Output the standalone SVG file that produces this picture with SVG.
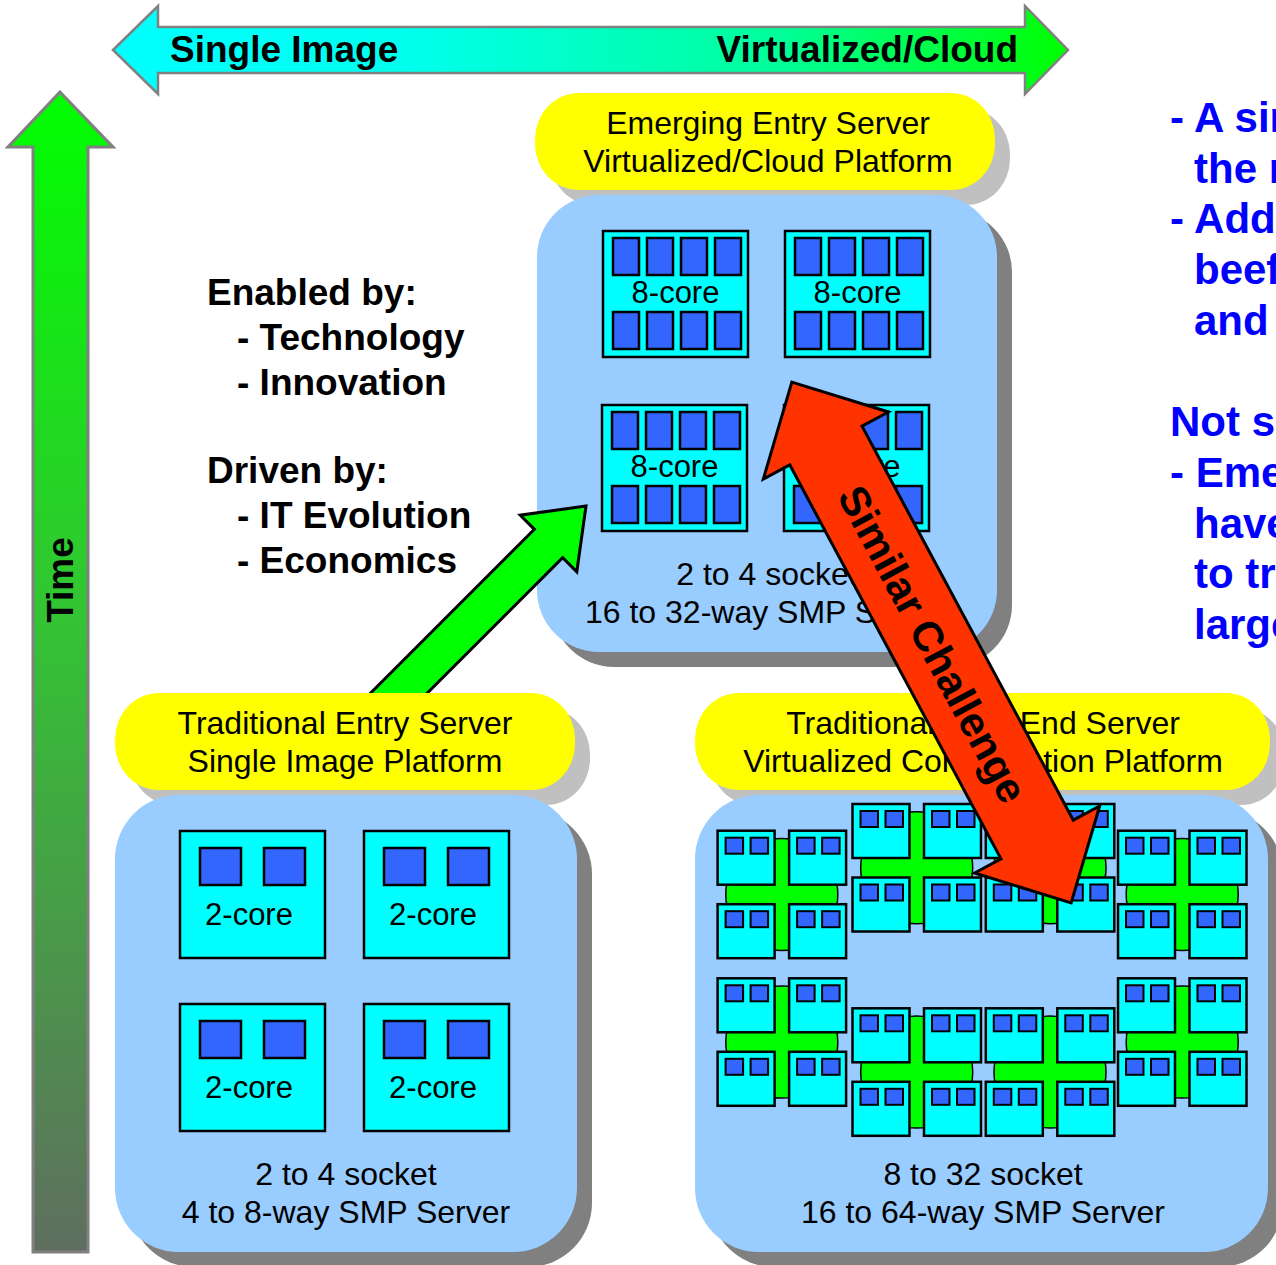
<svg xmlns="http://www.w3.org/2000/svg" xmlns:xlink="http://www.w3.org/1999/xlink" width="1276" height="1265" viewBox="0 0 1276 1265">
  <defs>
    <style>
      .t { font-family: "Liberation Sans", Arial, sans-serif; fill: #000; }
      .lbl { font-size: 32px; text-anchor: middle; }
      .chipTxt { font-size: 31px; text-anchor: middle; }
      .hd { font-size: 37px; font-weight: bold; }
      .note { font-family: "Liberation Sans", Arial, sans-serif; font-size: 42px; font-weight: bold; fill: #0000FF; }
      .pill { fill: #FFFF00; }
      .pillShadow { fill: #C0C0C0; }
      .box { fill: #99CCFF; }
      .boxShadow { fill: #808080; }
      .chip { fill: #00FFFF; stroke: #000; stroke-width: 2.5; }
      .core { fill: #3366FF; stroke: #000; stroke-width: 2.5; }
      .coreS { fill: #3366FF; stroke: #000; stroke-width: 2; }
    </style>
    <linearGradient id="spanGrad" gradientUnits="userSpaceOnUse" x1="113" y1="0" x2="1068" y2="0">
      <stop offset="0" stop-color="#00FFFF"/>
      <stop offset="0.3" stop-color="#00FFEE"/>
      <stop offset="0.7" stop-color="#00FF98"/>
      <stop offset="1" stop-color="#00FF00"/>
    </linearGradient>
    <linearGradient id="timeGrad" gradientUnits="userSpaceOnUse" x1="0" y1="92" x2="0" y2="1252">
      <stop offset="0" stop-color="#00FF00"/>
      <stop offset="0.45" stop-color="#33C433"/>
      <stop offset="1" stop-color="#5F6E5F"/>
    </linearGradient>
    <!-- 8-core processor chip -->
    <g id="chip8">
      <rect class="chip" x="0" y="0" width="145" height="126"/>
      <rect class="core" x="10" y="7" width="26" height="37"/>
      <rect class="core" x="44" y="7" width="26" height="37"/>
      <rect class="core" x="78" y="7" width="26" height="37"/>
      <rect class="core" x="112" y="7" width="26" height="37"/>
      <rect class="core" x="10" y="81" width="26" height="37"/>
      <rect class="core" x="44" y="81" width="26" height="37"/>
      <rect class="core" x="78" y="81" width="26" height="37"/>
      <rect class="core" x="112" y="81" width="26" height="37"/>
      <text class="t chipTxt" x="72.5" y="72">8-core</text>
    </g>
    <!-- 2-core processor chip -->
    <g id="chip2">
      <rect class="chip" x="0" y="0" width="145" height="127"/>
      <rect class="core" x="20" y="17" width="41" height="37"/>
      <rect class="core" x="84" y="17" width="41" height="37"/>
      <text class="t chipTxt" x="69" y="94">2-core</text>
    </g>
    <!-- small dual-core module -->
    <g id="mod">
      <rect class="chip" x="0" y="0" width="57" height="54"/>
      <rect class="coreS" x="8" y="7" width="17.5" height="16"/>
      <rect class="coreS" x="33" y="7" width="17.5" height="16"/>
    </g>
    <!-- socket: four modules on a green interconnect -->
    <g id="socket">
      <circle cx="64.2" cy="63.8" r="56" fill="#00FF00" stroke="#000" stroke-width="1.5"/>
      <use xlink:href="#mod" x="0" y="0"/>
      <use xlink:href="#mod" x="71.5" y="0"/>
      <use xlink:href="#mod" x="0" y="73.5"/>
      <use xlink:href="#mod" x="71.5" y="73.5"/>
    </g>
  </defs>

  <rect x="0" y="0" width="1276" height="1265" fill="#FFFFFF"/>

  <!-- horizontal axis: Single Image <-> Virtualized/Cloud -->
  <g id="axis-span">
    <polygon points="113,50 158,6 158,27 1025,27 1025,6 1068,50 1025,94 1025,73 158,73 158,94" fill="url(#spanGrad)" stroke="#808080" stroke-width="2.5"/>
    <text class="t hd" x="170" y="62">Single Image</text>
    <text class="t hd" x="1018" y="62" text-anchor="end">Virtualized/Cloud</text>
  </g>

  <!-- vertical axis: Time -->
  <g id="axis-time">
    <polygon points="60,92 113,147 88,147 88,1252 33,1252 33,147 8,147" fill="url(#timeGrad)" stroke="#808080" stroke-width="3"/>
    <text class="t hd" transform="translate(73,580) rotate(-90)" text-anchor="middle">Time</text>
  </g>

  <!-- drivers -->
  <g id="drivers">
    <text class="t hd" x="207" y="305">Enabled by:</text>
    <text class="t hd" x="237" y="350">- Technology</text>
    <text class="t hd" x="237" y="395">- Innovation</text>
    <text class="t hd" x="207" y="483">Driven by:</text>
    <text class="t hd" x="237" y="528">- IT Evolution</text>
    <text class="t hd" x="237" y="573">- Economics</text>
  </g>

  <!-- emerging entry server -->
  <g id="emerging-entry">
    <rect class="pillShadow" x="550" y="108" width="460" height="97" rx="44" ry="46"/>
    <rect class="boxShadow" x="552" y="210" width="460" height="457" rx="62"/>
    <rect class="box" x="537" y="195" width="460" height="457" rx="62"/>
    <rect class="pill" x="535" y="93" width="460" height="97" rx="44" ry="46"/>
    <text class="t lbl" x="768" y="134">Emerging Entry Server</text>
    <text class="t lbl" x="768" y="172">Virtualized/Cloud Platform</text>
    <use xlink:href="#chip8" x="603" y="231"/>
    <use xlink:href="#chip8" x="785" y="231"/>
    <use xlink:href="#chip8" x="602" y="405"/>
    <use xlink:href="#chip8" x="784" y="405"/>
    <text class="t lbl" x="767" y="585">2 to 4 socket</text>
    <text class="t lbl" x="767" y="623">16 to 32-way SMP Server</text>
  </g>

  <!-- connectors -->
  <g id="connectors">
    <polygon id="evolution-arrow" transform="translate(586,506) rotate(-45)" points="0,0 -53,-40 -53,-20 -420,-20 -420,20 -53,20 -53,40" fill="#00FF00" stroke="#000" stroke-width="3" stroke-linejoin="miter"/>
  </g>

  <!-- traditional entry server -->
  <g id="traditional-entry">
    <rect class="pillShadow" x="130" y="708" width="460" height="97" rx="44" ry="46"/>
    <rect class="boxShadow" x="130" y="810" width="462" height="457" rx="64"/>
    <rect class="box" x="115" y="795" width="462" height="457" rx="64"/>
    <rect class="pill" x="115" y="693" width="460" height="97" rx="44" ry="46"/>
    <text class="t lbl" x="345" y="734">Traditional Entry Server</text>
    <text class="t lbl" x="345" y="772">Single Image Platform</text>
    <use xlink:href="#chip2" x="180" y="831"/>
    <use xlink:href="#chip2" x="364" y="831"/>
    <use xlink:href="#chip2" x="180" y="1004"/>
    <use xlink:href="#chip2" x="364" y="1004"/>
    <text class="t lbl" x="346" y="1185">2 to 4 socket</text>
    <text class="t lbl" x="346" y="1223">4 to 8-way SMP Server</text>
  </g>

  <!-- traditional high-end server -->
  <g id="traditional-high-end">
    <rect class="pillShadow" x="710" y="708" width="575" height="97" rx="44" ry="46"/>
    <rect class="boxShadow" x="710" y="810" width="573" height="457" rx="64"/>
    <rect class="box" x="695" y="795" width="573" height="457" rx="64"/>
    <rect class="pill" x="695" y="693" width="575" height="97" rx="44" ry="46"/>
    <text class="t lbl" x="983" y="734">Traditional High-End Server</text>
    <text class="t lbl" x="983" y="772">Virtualized Consolidation Platform</text>
    <use xlink:href="#socket" x="717.6" y="830.7"/>
    <use xlink:href="#socket" x="852.5" y="804"/>
    <use xlink:href="#socket" x="985.8" y="804"/>
    <use xlink:href="#socket" x="1118" y="830.7"/>
    <use xlink:href="#socket" x="717.6" y="978.3"/>
    <use xlink:href="#socket" x="852.5" y="1008.3"/>
    <use xlink:href="#socket" x="985.8" y="1008.3"/>
    <use xlink:href="#socket" x="1118" y="978.3"/>
    <text class="t lbl" x="983" y="1185">8 to 32 socket</text>
    <text class="t lbl" x="983" y="1223">16 to 64-way SMP Server</text>
  </g>

  <!-- similar challenge double arrow -->
  <g id="challenge-arrow" transform="translate(931.5,642.5) rotate(61.8)">
    <polygon points="-295.5,0 -223.5,-71 -223.5,-41 223.5,-41 223.5,-71 295.5,0 223.5,71 223.5,41 -223.5,41 -223.5,71" fill="#FF3300" stroke="#000" stroke-width="3"/>
    <text class="t" x="2" y="14.5" text-anchor="middle" font-size="42" font-weight="bold">Similar Challenge</text>
  </g>

  <!-- side notes -->
  <g id="notes">
    <text class="note" x="1170" y="132">- A sin</text>
    <text class="note" x="1194" y="182.7">the n</text>
    <text class="note" x="1170" y="233.4">- Add</text>
    <text class="note" x="1194" y="284.1">beef</text>
    <text class="note" x="1194" y="334.8">and</text>
    <text class="note" x="1170" y="436.2">Not s</text>
    <text class="note" x="1170" y="486.9">- Eme</text>
    <text class="note" x="1194" y="537.6">have</text>
    <text class="note" x="1194" y="588.3">to tr</text>
    <text class="note" x="1194" y="639">large</text>
  </g>
</svg>
